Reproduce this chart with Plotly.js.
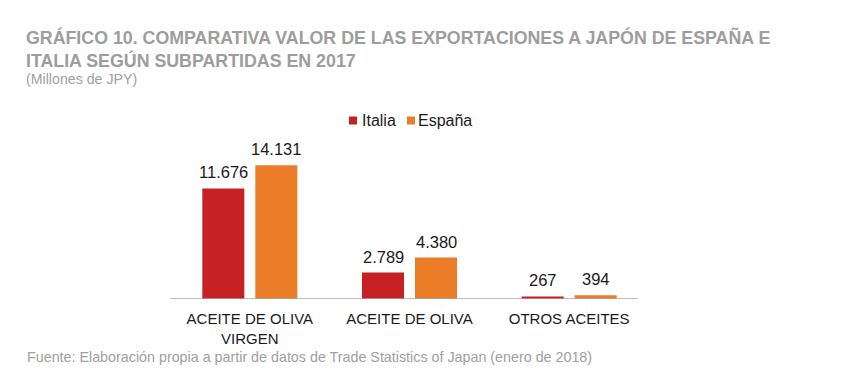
<!DOCTYPE html>
<html><head><meta charset="utf-8">
<script src="https://cdn.plot.ly/plotly-3.0.1.min.js"></script>
<style>html,body{margin:0;padding:0;background:#fff;}#chart{width:844px;height:383px;}</style>
</head><body><div id="chart"></div>
<script>
const categories = ['ACEITE DE OLIVA<br>VIRGEN', 'ACEITE DE OLIVA', 'OTROS ACEITES'];
const italia = [11676, 2789, 267];
const espana = [14131, 4380, 394];
const seriesNames = ['Italia', 'España'];
const colors = ['#C62024', '#EB7D28'];

const L = 170, R = 649, T = 157, B = 299, W = 844, H = 383;
const px = x => (x - L) / (R - L);
const py = y => (B - y) / (B - T);
const fmt = v => String(v).replace(/\B(?=(\d{3})+(?!\d))/g, '.');
const FONT = 'Liberation Sans, Arial, sans-serif';

const traces = [italia, espana].map((vals, i) => ({
  type: 'bar', name: seriesNames[i], x: categories, y: vals,
  marker: {color: colors[i]}, hoverinfo: 'skip', showlegend: false
}));

const annotations = [];
[italia, espana].forEach((vals, i) => {
  vals.forEach((v, j) => {
    annotations.push({x: categories[j], y: v, xref: 'x', yref: 'y', text: fmt(v), showarrow: false,
      yanchor: 'bottom', xanchor: 'center', xshift: i === 0 ? -26.5 : 26.5, yshift: 5,
      font: {family: FONT, size: 16.5, color: '#1a1a1a'}});
  });
});
// custom legend (compact, like the reference)
const legendSquares = [349, 407];
const legendTexts = [360, 416];
const shapes = [{type: 'line', xref: 'paper', yref: 'y', x0: 0, x1: px(638), y0: 0, y1: 0,
    line: {color: '#a6a6a6', width: 1.5}}];
seriesNames.forEach((n, i) => {
  shapes.push({type: 'rect', xref: 'paper', yref: 'paper', x0: px(legendSquares[i]), x1: px(legendSquares[i] + 8),
    y0: py(124.5), y1: py(116.5), fillcolor: colors[i], line: {width: 0}});
  annotations.push({xref: 'paper', yref: 'paper', x: px(legendTexts[i]), y: py(121), xanchor: 'left', yanchor: 'middle',
    text: n, showarrow: false, font: {family: FONT, size: 16, color: '#1a1a1a'}});
});
annotations.push({xref: 'paper', yref: 'paper', x: px(24), y: py(79), xanchor: 'left', yanchor: 'middle',
  text: '(Millones de JPY)', showarrow: false,
  font: {family: FONT, size: 14.2, color: '#a0a0a0'}});
annotations.push({xref: 'paper', yref: 'paper', x: px(25), y: py(357), xanchor: 'left', yanchor: 'middle',
  text: 'Fuente: Elaboración propia a partir de datos de Trade Statistics of Japan (enero de 2018)', showarrow: false,
  font: {family: FONT, size: 14.3, color: '#a0a0a0'}});

const layout = {
  width: W, height: H,
  margin: {l: L, r: W - R, t: T, b: H - B, pad: 0},
  paper_bgcolor: '#fff', plot_bgcolor: '#fff',
  title: {text: '<b>GRÁFICO 10. COMPARATIVA VALOR DE LAS EXPORTACIONES A JAPÓN DE ESPAÑA E<br>ITALIA SEGÚN SUBPARTIDAS EN 2017</b>',
    xref: 'container', yref: 'container', x: 26 / W, xanchor: 'left', y: 1 - 44 / H, yanchor: 'top',
    font: {family: FONT, size: 17.8, color: '#9d9d9d'}},
  barmode: 'group', bargap: 0.336, bargroupgap: 0.2075,
  showlegend: false,
  xaxis: {type: 'category', range: [-0.5, 2.5], showgrid: false, zeroline: false, showline: false, ticks: '',
    ticklabelstandoff: 9,
    tickfont: {family: FONT, size: 15, color: '#1a1a1a'}, fixedrange: true},
  yaxis: {range: [0, 15000], visible: false, showgrid: false, zeroline: false, fixedrange: true},
  shapes: shapes,
  annotations: annotations
};
Plotly.newPlot('chart', traces, layout, {displayModeBar: false, staticPlot: true});
</script></body></html>
